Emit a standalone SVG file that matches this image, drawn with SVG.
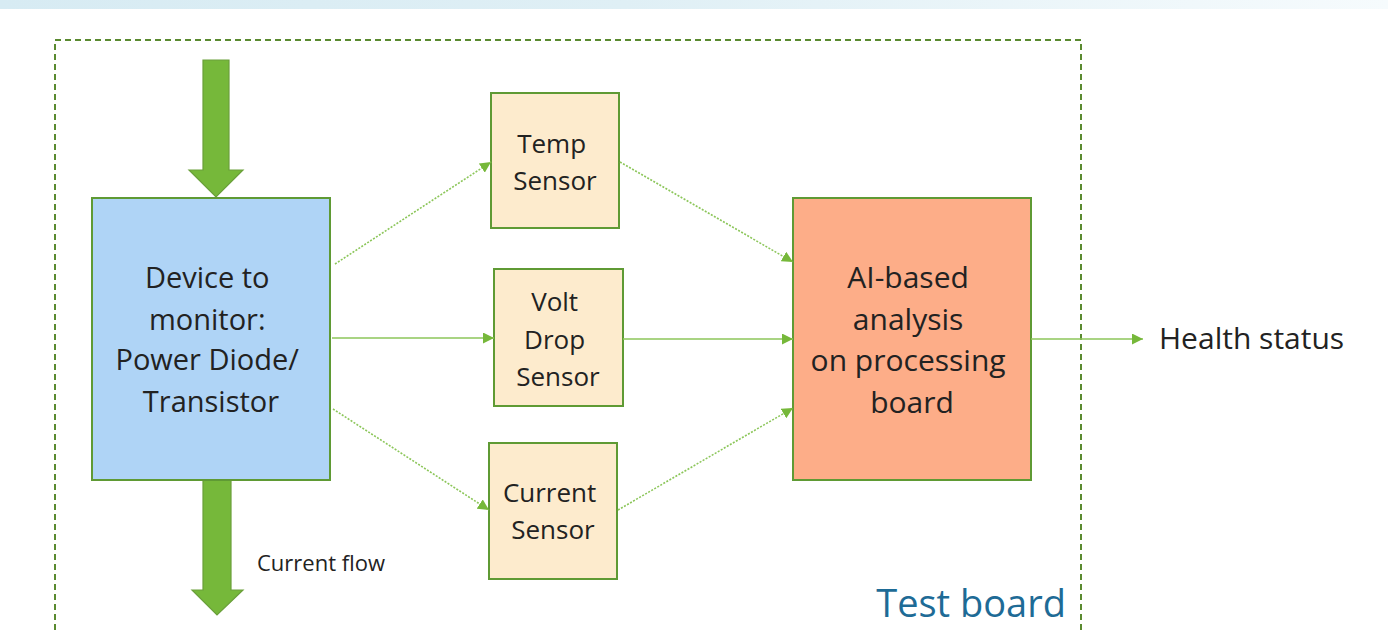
<svg xmlns="http://www.w3.org/2000/svg" width="1388" height="631" viewBox="0 0 1388 631">
  <defs>
    <linearGradient id="band" x1="0" y1="0" x2="1" y2="0">
      <stop offset="0" stop-color="#d7ebf3"/>
      <stop offset="0.45" stop-color="#dfeff5"/>
      <stop offset="1" stop-color="#f6fbfd"/>
    </linearGradient>
    <marker id="head" viewBox="0 0 10 10" refX="10" refY="5" markerWidth="11" markerHeight="11" markerUnits="userSpaceOnUse" orient="auto">
      <path d="M0,0 L10,5 L0,10 z" fill="#76b83a"/>
    </marker>
  </defs>
  <style>
    .lbl { font-family: "Open Sans", "Noto Sans", "Liberation Sans", sans-serif; fill: #222; text-anchor: middle; }
    .box { stroke: #5f9a34; stroke-width: 2; }
    .flow { fill: #76b83a; stroke: #6a9f3a; stroke-width: 1.2; }
    .link { fill: none; stroke: #8cc65a; stroke-width: 1.6; marker-end: url(#head); }
    .dot { stroke-dasharray: 2 1.5; }
  </style>

  <rect x="0" y="0" width="1388" height="9" fill="url(#band)"/>

  <!-- test board outline -->
  <g id="test-board">
    <path d="M55,640 L55,40 L1081,40 L1081,640" fill="none" stroke="#5a8a30" stroke-width="2" stroke-dasharray="6 4"/>
    <text x="1066" y="617" font-family="'Open Sans', 'Noto Sans', 'Liberation Sans', sans-serif" font-size="38" fill="#1e6b96" text-anchor="end">Test board</text>
  </g>

  <!-- current flow arrows -->
  <g id="flow-in">
    <path class="flow" d="M203,60 L229,60 L229,170 L243,170 L216,197 L189,170 L203,170 z"/>
  </g>
  <g id="flow-out">
    <path class="flow" d="M203,480 L231,480 L231,590 L243,590 L217,615 L192,590 L203,590 z"/>
    <text x="257" y="571" font-family="'Open Sans', 'Noto Sans', 'Liberation Sans', sans-serif" font-size="22" fill="#222">Current flow</text>
  </g>

  <g id="device">
    <rect class="box" x="92" y="198" width="238" height="282" fill="#afd4f6"/>
    <text class="lbl" font-size="29">
      <tspan x="211" y="288">Device to</tspan>
      <tspan x="211" y="330">monitor:</tspan>
      <tspan x="211" y="370">Power Diode/</tspan>
      <tspan x="211" y="412">Transistor</tspan>
    </text>
  </g>

  <g id="temp-sensor">
    <rect class="box" x="491" y="93" width="128" height="135" fill="#fdebcd"/>
    <text class="lbl" font-size="26">
      <tspan x="555" y="153">Temp</tspan>
      <tspan x="555" y="190">Sensor</tspan>
    </text>
  </g>

  <g id="volt-sensor">
    <rect class="box" x="494" y="269" width="129" height="137" fill="#fdebcd"/>
    <text class="lbl" font-size="26">
      <tspan x="558" y="311">Volt</tspan>
      <tspan x="558" y="349">Drop</tspan>
      <tspan x="558" y="386">Sensor</tspan>
    </text>
  </g>

  <g id="current-sensor">
    <rect class="box" x="489" y="443" width="128" height="136" fill="#fdebcd"/>
    <text class="lbl" font-size="26">
      <tspan x="553" y="502">Current</tspan>
      <tspan x="553" y="539">Sensor</tspan>
    </text>
  </g>

  <g id="ai-board">
    <rect class="box" x="793" y="198" width="238" height="282" fill="#fdad88"/>
    <text class="lbl" font-size="30">
      <tspan x="912" y="288">AI-based</tspan>
      <tspan x="912" y="330">analysis</tspan>
      <tspan x="912" y="371">on processing</tspan>
      <tspan x="912" y="413">board</tspan>
    </text>
  </g>

  <g id="health">
    <text x="1159" y="349" font-family="'Open Sans', 'Noto Sans', 'Liberation Sans', sans-serif" font-size="30" fill="#222">Health status</text>
  </g>

  <g id="connectors">
    <line class="link dot" x1="335" y1="264" x2="491" y2="162"/>
    <line class="link" x1="332" y1="338" x2="494" y2="338"/>
    <line class="link dot" x1="333" y1="409" x2="489" y2="510"/>
    <line class="link dot" x1="620" y1="162" x2="793" y2="262"/>
    <line class="link" x1="623" y1="339" x2="793" y2="339"/>
    <line class="link dot" x1="618" y1="510" x2="793" y2="408"/>
    <line class="link" x1="1031" y1="339" x2="1143" y2="339"/>
  </g>
</svg>
